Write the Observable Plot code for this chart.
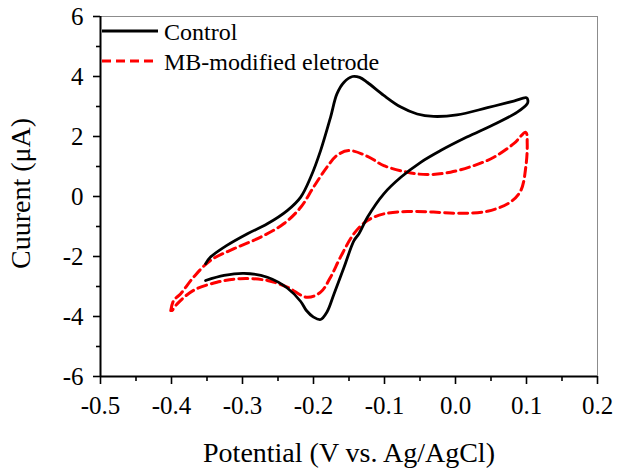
<!DOCTYPE html>
<html>
<head>
<meta charset="utf-8">
<script src="https://cdn.jsdelivr.net/npm/d3@7"></script>
<script src="https://cdn.jsdelivr.net/npm/@observablehq/plot@0.6"></script>
<style>
  html, body { margin: 0; padding: 0; background: white; }
  #chart { position: relative; width: 620px; height: 473px; }
  #chart svg, #chart svg text { font-family: "Liberation Serif", "Times New Roman", serif !important; }
</style>
</head>
<body>
<div id="chart"></div>
<script>
// Series names
const seriesNames = ["Control", "MB-modified eletrode"];

// Control electrode CV (potential V, current µA), in scan order
const controlV = [-0.352, -0.345, -0.322, -0.293, -0.265, -0.237, -0.218, -0.204, -0.190, -0.176, -0.167, -0.157, -0.145, -0.135, -0.124, -0.101, -0.077, -0.054, -0.031, 0.002, 0.045, 0.082, 0.100, 0.102, 0.101, 0.087, 0.054, 0.016, -0.021, -0.049, -0.077, -0.101, -0.124, -0.136, -0.143, -0.157, -0.171, -0.181, -0.190, -0.200, -0.210, -0.218, -0.237, -0.265, -0.298, -0.326, -0.352];
const controlI = [-2.24, -2.02, -1.63, -1.24, -0.91, -0.47, -0.02, 0.64, 1.53, 2.64, 3.42, 3.81, 4.00, 3.97, 3.80, 3.37, 2.98, 2.75, 2.67, 2.72, 2.96, 3.18, 3.29, 3.20, 3.09, 2.81, 2.40, 1.98, 1.53, 1.14, 0.64, 0.09, -0.69, -1.24, -1.47, -2.36, -3.24, -3.85, -4.10, -4.02, -3.80, -3.50, -3.05, -2.69, -2.56, -2.63, -2.80];

// MB-modified electrode CV
const mbV = [-0.401, -0.397, -0.387, -0.369, -0.345, -0.312, -0.275, -0.242, -0.218, -0.200, -0.181, -0.167, -0.150, -0.124, -0.101, -0.068, -0.040, -0.007, 0.026, 0.054, 0.082, 0.099, 0.101, 0.099, 0.092, 0.077, 0.045, 0.007, -0.031, -0.068, -0.101, -0.124, -0.143, -0.162, -0.176, -0.190, -0.209, -0.237, -0.265, -0.303, -0.336, -0.369, -0.392, -0.399];
const mbI = [-3.80, -3.47, -3.24, -2.69, -2.13, -1.74, -1.36, -0.91, -0.36, 0.31, 0.98, 1.37, 1.53, 1.34, 1.03, 0.81, 0.73, 0.81, 1.03, 1.31, 1.76, 2.14, 1.76, 0.98, 0.20, -0.19, -0.49, -0.56, -0.52, -0.50, -0.58, -0.80, -1.24, -2.02, -2.69, -3.19, -3.36, -3.02, -2.80, -2.74, -2.86, -3.13, -3.58, -3.80];

// Axis ticks
const xMajor = [-0.5, -0.4, -0.3, -0.2, -0.1, 0.0, 0.1, 0.2];
const xMinor = [-0.45, -0.35, -0.25, -0.15, -0.05, 0.05, 0.15];
const yMajor = [-6, -4, -2, 0, 2, 4, 6];
const yMinor = [-5, -3, -1, 1, 3, 5];
const xTitle = "Potential (V vs. Ag/AgCl)";
const yTitle = "Cuurent (μA)";

const control = controlV.map((v, k) => ({v, i: controlI[k]}));
const mb = mbV.map((v, k) => ({v, i: mbI[k]}));

const FONT = "Liberation Serif, Times New Roman, serif";

const chart = Plot.plot({
  width: 620,
  height: 473,
  marginLeft: 100,
  marginRight: 23,
  marginTop: 16,
  marginBottom: 97,
  style: {fontFamily: FONT, fontSize: "25px", color: "black", background: "white", overflow: "visible"},
  x: {domain: [-0.5, 0.2]},
  y: {domain: [-6, 6]},
  marks: [
    Plot.frame({stroke: "#8c8c8c", strokeWidth: 1}),
    Plot.axisX({ticks: xMajor, tickSize: 8, tickPadding: 12, tickFormat: d => d.toFixed(1), label: null, fontSize: 25, fontFamily: FONT, strokeWidth: 1.6}),
    Plot.axisX({ticks: xMinor, tickSize: 5, tickFormat: () => "", label: null, strokeWidth: 1.6}),
    Plot.axisY({ticks: yMajor, tickSize: 7, tickPadding: 10, tickFormat: d => String(d), label: null, fontSize: 25, fontFamily: FONT, strokeWidth: 1.6}),
    Plot.axisY({ticks: yMinor, tickSize: 4, tickFormat: () => "", label: null, strokeWidth: 1.6}),
    Plot.ruleX([-0.5], {stroke: "black", strokeWidth: 2}),
    Plot.ruleY([-6], {stroke: "black", strokeWidth: 2}),
    Plot.text([xTitle], {frameAnchor: "bottom", dy: 77, fontSize: 28, fontFamily: FONT, lineAnchor: "middle"}),
    Plot.text([yTitle], {frameAnchor: "left", dx: -79, dy: -3, rotate: -90, fontSize: 28, fontFamily: FONT, lineAnchor: "middle", textAnchor: "middle"}),
    Plot.line(mb, {x: "v", y: "i", stroke: "red", strokeWidth: 3, strokeDasharray: "9,5", curve: "catmull-rom"}),
    Plot.line(control, {x: "v", y: "i", stroke: "black", strokeWidth: 2.8, curve: "catmull-rom"})
  ]
});

document.getElementById("chart").appendChild(chart);

// Legend (inside plot, top-left)
const svg = d3.select(chart);
const leg = svg.append("g")
  .attr("font-family", FONT)
  .attr("font-size", 24)
  .attr("text-anchor", "start");
const legendStyles = [
  {stroke: "black", dash: null, width: 2.8, y: 31},
  {stroke: "red", dash: "9,5", width: 3, y: 61}
];
seriesNames.forEach((name, k) => {
  const s = legendStyles[k];
  leg.append("line")
    .attr("x1", 102).attr("x2", 158).attr("y1", s.y).attr("y2", s.y)
    .attr("stroke", s.stroke).attr("stroke-width", s.width)
    .attr("stroke-dasharray", s.dash);
  leg.append("text")
    .attr("x", 164).attr("y", s.y + 8.5)
    .attr("text-anchor", "start")
    .attr("fill", "black")
    .text(name);
});
</script>
</body>
</html>
